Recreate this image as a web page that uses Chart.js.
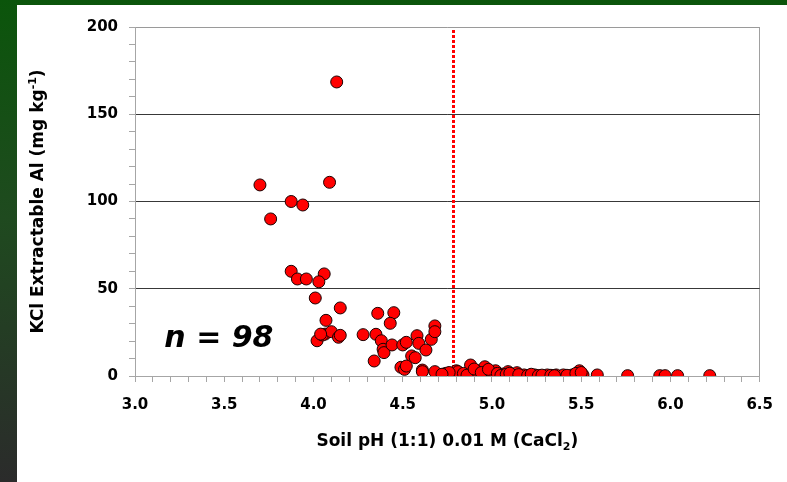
<!DOCTYPE html>
<html>
<head>
<meta charset="utf-8">
<script src="https://cdn.jsdelivr.net/npm/chart.js@4/dist/chart.umd.min.js"></script>
<style>
  html, body { margin: 0; padding: 0; }
  body {
    width: 787px; height: 482px; overflow: hidden; position: relative;
    background: linear-gradient(to bottom, #0b550b 0%, #1f4a1f 45%, #2b2b2b 100%);
  }
  #panel {
    position: absolute; left: 17px; top: 5px; width: 770px; height: 477px;
    background: #ffffff;
  }
  #chart { display: block; }
</style>
</head>
<body>
<div id="panel"><canvas id="chart" width="770" height="477"></canvas></div>
<script>
// Soil pH (CaCl2) of each sample
const soilPh = [
  3.70, 3.76, 3.875, 3.94, 4.13, 4.09, 3.875, 3.91, 3.96, 4.06,
  4.03, 4.01, 4.15, 4.07, 4.02, 4.065, 4.05, 4.10, 4.14, 4.15,
  4.04, 4.278, 4.36, 4.45, 4.43, 4.35, 4.38, 4.39, 4.395, 4.44,
  4.34, 4.50, 4.52, 4.58, 4.59, 4.63, 4.66, 4.68, 4.68, 4.55,
  4.57, 4.49, 4.51, 4.52, 4.61, 4.61, 4.68, 4.74, 4.75, 4.78,
  4.80, 4.815, 4.81, 4.88, 4.92, 4.92, 4.96, 5.02, 5.00, 5.06,
  5.09, 5.12, 5.14, 5.18, 5.24, 5.31, 5.36, 5.40, 5.45, 5.49,
  5.51, 5.59, 5.76, 5.94, 5.97, 6.04, 6.22, 4.84, 4.86, 4.90,
  4.94, 4.98, 5.03, 5.05, 5.08, 5.10, 5.15, 5.20, 5.22, 5.26,
  5.28, 5.33, 5.35, 5.42, 5.47, 5.50, 4.76, 4.72
];
// KCl extractable Al (mg/kg) for the same samples
const kclAl = [
  109.5, 90.0, 100.0, 98.0, 168.5, 111.0, 60.0, 55.6, 55.6, 58.5,
  54.0, 44.7, 39.0, 31.9, 20.2, 24.0, 23.5, 25.4, 22.2, 23.3,
  24.0, 23.7, 35.9, 36.3, 30.2, 23.9, 20.2, 15.3, 13.4, 17.8,
  8.6, 17.8, 19.3, 23.1, 18.7, 14.9, 21.0, 28.7, 25.4, 11.5,
  10.5, 5.0, 3.8, 5.7, 3.4, 2.5, 2.5, 1.5, 0.6, 0.0,
  3.0, 1.1, 2.5, 6.3, 3.0, 1.1, 5.3, 3.0, 0.6, 1.1,
  2.5, 0.6, 1.9, 0.6, 0.6, 0.6, 0.6, 0.6, 0.6, 3.0,
  0.6, 0.6, 0.2, 0.2, 0.2, 0.2, 0.2, 1.5, 0.5, 4.0,
  2.0, 3.8, 1.5, 0.3, 1.0, 1.6, 0.8, 0.3, 1.0, 0.3,
  0.5, 0.4, 0.2, 0.4, 1.5, 2.0, 2.0, 1.0
];
// pH above which extractable Al stays near zero
const criticalPh = 4.78;
const sampleCountText = 'n = 98';

const xMin = 3.0, xMax = 6.5, xStep = 0.1, xLabelEvery = 0.5;
const yMin = 0, yMax = 200, yStep = 10, yLabelEvery = 50;

const points = soilPh.map((ph, i) => ({ x: ph, y: kclAl[i] }));

const axisGray = '#a6a6a6';
const tickFont = { family: 'DejaVu Sans', size: 15, weight: 'bold' };

// vertical dotted threshold line
const thresholdLine = {
  id: 'thresholdLine',
  beforeDatasetsDraw(chart) {
    const { ctx, chartArea, scales } = chart;
    const px = Math.round(scales.x.getPixelForValue(criticalPh)) + 0.5;
    ctx.save();
    ctx.strokeStyle = '#ff0000';
    ctx.lineWidth = 3;
    ctx.setLineDash([3, 2]);
    ctx.beginPath();
    ctx.moveTo(px, chartArea.top + 3);
    ctx.lineTo(px, chartArea.bottom);
    ctx.stroke();
    ctx.restore();
  }
};

// axis titles with sub/superscripts and the sample count
const annotations = {
  id: 'annotations',
  afterDraw(chart) {
    const { ctx, chartArea, scales } = chart;
    ctx.save();
    ctx.fillStyle = '#000';
    ctx.textBaseline = 'alphabetic';

    // x-axis title
    const big = 'bold 17px "DejaVu Sans"';
    const small = 'bold 11px "DejaVu Sans"';
    const xParts = [['Soil pH (1:1) 0.01 M (CaCl', big, 0], ['2', small, 4], [')', big, 0]];
    let total = 0;
    xParts.forEach(p => { ctx.font = p[1]; total += ctx.measureText(p[0]).width; });
    let cx = (chartArea.left + chartArea.right) / 2 - total / 2;
    const baseX = 441;
    xParts.forEach(p => { ctx.font = p[1]; ctx.fillText(p[0], cx, baseX + p[2]); cx += ctx.measureText(p[0]).width; });

    // y-axis title (rotated)
    const yParts = [['KCl Extractable Al (mg kg', big, 0], ['-1', small, -7], [')', big, 0]];
    total = 0;
    yParts.forEach(p => { ctx.font = p[1]; total += ctx.measureText(p[0]).width; });
    ctx.translate(26, (chartArea.top + chartArea.bottom) / 2);
    ctx.rotate(-Math.PI / 2);
    let cy = -total / 2;
    yParts.forEach(p => { ctx.font = p[1]; ctx.fillText(p[0], cy, 0 + p[2] + 0); cy += ctx.measureText(p[0]).width; });
    ctx.setTransform(1, 0, 0, 1, 0, 0);

    // sample count
    ctx.font = 'italic bold 30px "DejaVu Sans"';
    ctx.textAlign = 'center';
    ctx.fillText(sampleCountText, scales.x.getPixelForValue(3.47), scales.y.getPixelForValue(16.5));
    ctx.restore();
  }
};

new Chart(document.getElementById('chart'), {
  type: 'scatter',
  data: {
    datasets: [{
      data: points,
      backgroundColor: '#ff0000',
      borderColor: '#1a0000',
      borderWidth: 1,
      pointRadius: 6,
      pointHoverRadius: 6
    }]
  },
  options: {
    responsive: false,
    animation: false,
    events: [],
    layout: { padding: { left: 0, right: 24, top: 22, bottom: 0 } },
    plugins: { legend: { display: false }, tooltip: { enabled: false } },
    scales: {
      x: {
        type: 'linear',
        min: xMin, max: xMax,
        afterFit(scale) { scale.height = 106; },
        border: { display: true, color: axisGray, width: 1 },
        grid: {
          drawOnChartArea: true,
          color: c => (c.tick && Math.abs(c.tick.value - xMax) < 1e-6) ? '#a0a0a0' : 'rgba(0,0,0,0)',
          tickColor: axisGray,
          tickLength: 6,
          lineWidth: 1
        },
        ticks: {
          stepSize: xStep,
          autoSkip: false,
          maxTicksLimit: 200,
          maxRotation: 0,
          padding: 14,
          color: '#000',
          font: tickFont,
          callback: v => {
            const k = Math.round(v / xStep);
            const every = Math.round(xLabelEvery / xStep);
            return k % every === 0 ? (k * xStep).toFixed(1) : '';
          }
        }
      },
      y: {
        type: 'linear',
        min: yMin, max: yMax,
        afterFit(scale) { scale.width = 118; },
        border: { display: true, color: axisGray, width: 1 },
        grid: {
          drawOnChartArea: true,
          color: c => {
            const v = c.tick ? c.tick.value : -1;
            if (v === yMax) return '#9a9a9a';
            if (v > yMin && v % yLabelEvery === 0) return '#383838';
            return 'rgba(0,0,0,0)';
          },
          tickColor: axisGray,
          tickLength: 6,
          lineWidth: 1
        },
        ticks: {
          stepSize: yStep,
          autoSkip: false,
          maxTicksLimit: 200,
          padding: 11,
          color: '#000',
          font: tickFont,
          callback: v => (v % yLabelEvery === 0 ? String(v) : '')
        }
      }
    }
  },
  plugins: [thresholdLine, annotations]
});
</script>
</body>
</html>
